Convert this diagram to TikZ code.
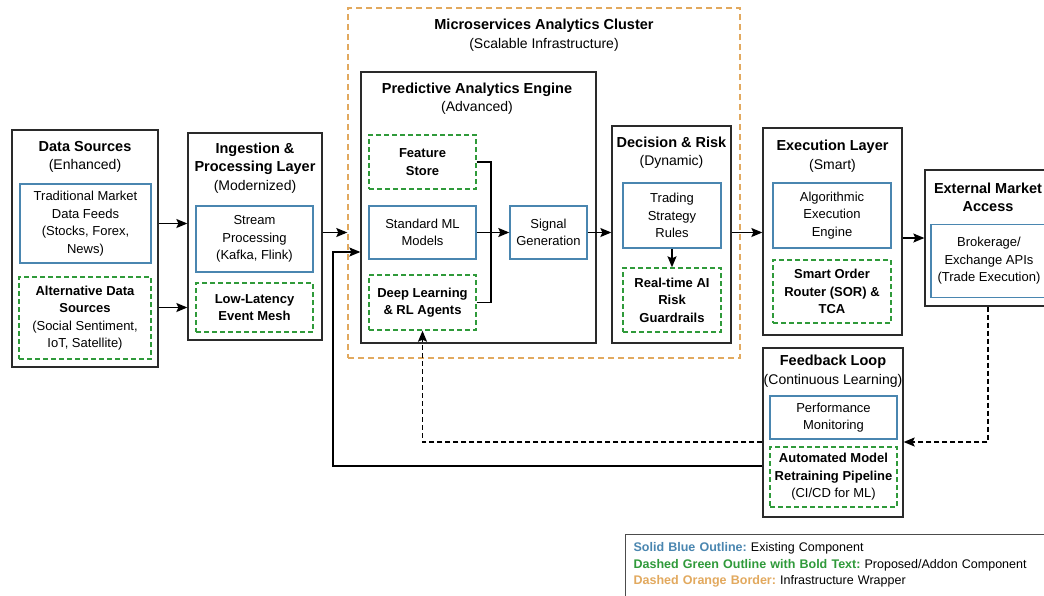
\documentclass[tikz,border=0pt]{standalone}
\usepackage{fontspec}
\setmainfont{Liberation Sans}
\usetikzlibrary{arrows.meta}
\definecolor{existblue}{HTML}{4A86B0}
\definecolor{addgreen}{HTML}{2F9A3A}
\definecolor{infraorange}{HTML}{E2A95E}
\definecolor{layerline}{HTML}{2A2A2A}
\newcommand{\subline}{\mdseries\fontsize{14}{18.5}\selectfont}
\tikzstyle{layer} = [draw=layerline, line width=1.3pt, fill=white, inner sep=0pt]
\tikzstyle{ttl} = [align=center, inner sep=0pt, font=\bfseries\fontsize{14.5}{18.5}\selectfont]
\tikzstyle{existing} = [draw=existblue, line width=1.4pt, fill=white, align=center, inner sep=0pt, font=\fontsize{13}{17.5}\selectfont]
\tikzstyle{addon} = [draw=addgreen, line width=1.4pt, dash pattern=on 5pt off 3pt, fill=white, align=center, inner sep=0pt, font=\bfseries\fontsize{13}{17.5}\selectfont]
\tikzstyle{infra} = [draw=infraorange, line width=1.4pt, dash pattern=on 6pt off 4pt, inner sep=0pt]
\tikzstyle{flow} = [line width=1.3pt, -{Stealth[length=11pt,width=9pt,inset=2pt]}]
\tikzstyle{feedback} = [flow, dash pattern=on 5pt off 3pt]

\begin{document}
\begin{tikzpicture}[x=1pt, y=-1pt]
\useasboundingbox[fill=white] (0,0) rectangle (1044,595);

% infrastructure wrapper
\node[infra, minimum width=392pt, minimum height=350pt] (cluster) at (544,183) {};
\node[ttl] (clusterT) at (544,35) {Microservices Analytics Cluster\\\subline(Scalable Infrastructure)};

% data sources
\node[layer, minimum width=146pt, minimum height=237pt] (ds) at (85,248.5) {};
\node[ttl] (dsT) at (85,157) {Data Sources\\\subline(Enhanced)};
\node[existing, minimum width=131pt, minimum height=79pt] (dsTrad) at (85.5,223.5) {Traditional Market\\Data Feeds\\(Stocks, Forex,\\News)};
\node[addon, minimum width=132pt, minimum height=82pt] (dsAlt) at (85,318) {Alternative Data\\Sources\\\mdseries(Social Sentiment,\\\mdseries IoT, Satellite)};

% ingestion
\node[layer, minimum width=134pt, minimum height=207pt] (ing) at (255,236.5) {};
\node[ttl] (ingT) at (255,168) {Ingestion \&\\Processing Layer\\\subline(Modernized)};
\node[existing, minimum width=117pt, minimum height=66pt] (ingStream) at (254.5,239) {Stream\\Processing\\(Kafka, Flink)};
\node[addon, minimum width=117pt, minimum height=49pt] (ingMesh) at (254.5,307.5) {Low-Latency\\Event Mesh};

% predictive analytics
\node[layer, minimum width=235pt, minimum height=271pt] (pae) at (478.5,207.5) {};
\node[ttl] (paeT) at (477,98.5) {Predictive Analytics Engine\\\subline(Advanced)};
\node[addon, minimum width=107pt, minimum height=54pt] (paeFeat) at (422.5,162) {Feature\\Store};
\node[existing, minimum width=107pt, minimum height=53pt] (paeML) at (422.5,232.5) {Standard ML\\Models};
\node[addon, minimum width=107pt, minimum height=55pt] (paeDL) at (422.5,302.5) {Deep Learning\\\& RL Agents};
\node[existing, minimum width=77pt, minimum height=53pt] (paeSig) at (548.5,232.5) {Signal\\Generation};

% decision and risk
\node[layer, minimum width=119pt, minimum height=217pt] (dr) at (671.5,234.5) {};
\node[ttl] (drT) at (671.5,152.5) {Decision \& Risk\\\subline(Dynamic)};
\node[existing, minimum width=98pt, minimum height=65pt] (drRules) at (672,215.5) {Trading\\Strategy\\Rules};
\node[addon, minimum width=98pt, minimum height=64pt] (drGuard) at (672,300) {Real-time AI\\Risk\\Guardrails};

% execution
\node[layer, minimum width=139pt, minimum height=207pt] (exec) at (832.5,231.5) {};
\node[ttl] (execT) at (832.5,156) {Execution Layer\\\subline(Smart)};
\node[existing, minimum width=118pt, minimum height=65pt] (execAlgo) at (832,215.5) {Algorithmic\\Execution\\Engine};
\node[addon, minimum width=118pt, minimum height=63pt] (execSOR) at (832,291.5) {Smart Order\\Router (SOR) \&\\TCA};

% external market
\node[layer, minimum width=126pt, minimum height=136pt] (ext) at (988,238) {};
\node[ttl] (extT) at (988,197.5) {External Market\\Access};
\node[existing, minimum width=116pt, minimum height=73pt] (extAPI) at (989,261) {Brokerage/\\Exchange APIs\\(Trade Execution)};

% feedback loop
\node[layer, minimum width=140pt, minimum height=169pt] (fb) at (833,432.5) {};
\node[ttl] (fbT) at (833,371) {Feedback Loop\\\subline(Continuous Learning)};
\node[existing, minimum width=127pt, minimum height=43pt] (fbMon) at (833.5,417.5) {Performance\\Monitoring};
\node[addon, minimum width=127pt, minimum height=60pt] (fbRetrain) at (833.5,477) {Automated Model\\Retraining Pipeline\\\mdseries(CI/CD for ML)};

% legend
\node[draw=black!70, line width=1.2pt, fill=white, anchor=north west, align=left, text width=430pt, inner xsep=8pt, inner ysep=8pt, font=\frenchspacing\fontsize{12.5}{16.5}\selectfont] (legend) at (625,534)
  {\textcolor{existblue}{\bfseries Solid Blue Outline:} Existing Component\\
   \textcolor{addgreen}{\bfseries Dashed Green Outline with Bold Text:} Proposed/Addon Component\\
   \textcolor{infraorange}{\bfseries Dashed Orange Border:} Infrastructure Wrapper\\[8pt]\mbox{}};

% main flow
\draw[flow] (dsTrad -| ds.east) -- (dsTrad -| ing.west);
\draw[flow] (ingMesh -| ds.east) -- (ingMesh -| ing.west);
\draw[flow] (paeML -| ing.east) -- (paeML -| cluster.west);
\draw[flow] (paeML.east) -- (paeSig.west);
\coordinate (merge) at (491,232.5);
\draw[line width=1.3pt] (paeFeat.east) -| (merge);
\draw[line width=1.3pt] (paeDL.east) -| (merge);
\draw[flow] (paeSig.east) -- (paeSig -| dr.west);
\draw[flow] (drRules.south) -- (drGuard.north);
\draw[flow] (paeSig -| dr.east) -- (paeSig -| exec.west);
\draw[flow] (ext.west -| exec.east) -- (ext.west);

% feedback paths
\coordinate (loopLow) at (333,466);
\coordinate (loopHigh) at (333,252);
\draw[flow] (loopLow -| fb.west) -- (loopLow) -- (loopHigh) -- (loopHigh -| pae.west);
\coordinate (fbGap) at (833,442);
\draw[feedback] (ext.south) |- (fbGap -| fb.east);
\draw[feedback] (fbGap -| fb.west) -| (paeDL.south);
\end{tikzpicture}
\end{document}
